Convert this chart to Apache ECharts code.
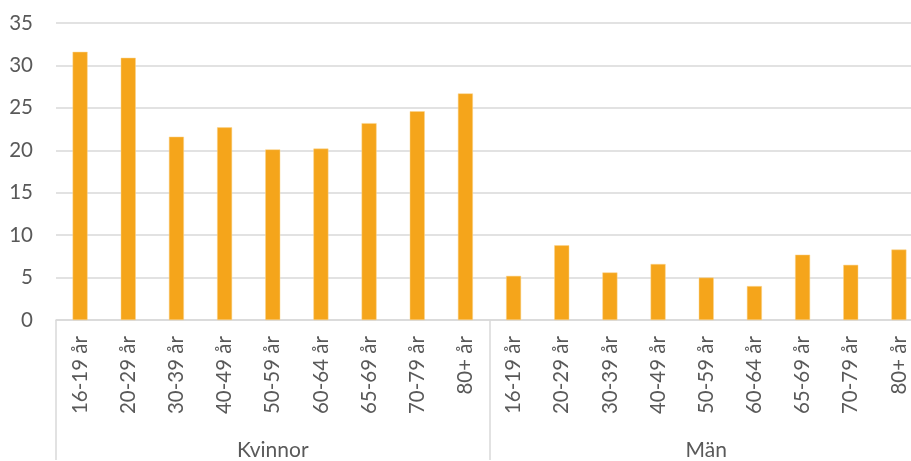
<!DOCTYPE html>
<html>
<head>
<meta charset="utf-8">
<script src="https://cdn.jsdelivr.net/npm/echarts@6/dist/echarts.min.js"></script>
<style>
  html, body { margin: 0; padding: 0; overflow: hidden; background: #fff; }
  #chart { width: 923px; height: 461px; }
</style>
</head>
<body>
<div id="chart"></div>
<script>
// åldersgrupper och värden
const ageGroups = ['16-19 år', '20-29 år', '30-39 år', '40-49 år', '50-59 år', '60-64 år', '65-69 år', '70-79 år', '80+ år']
const genders = ['Kvinnor', 'Män']
const womenValues = [31.6, 30.9, 21.6, 22.7, 20.1, 20.2, 23.2, 24.6, 26.7]
const menValues = [5.2, 8.8, 5.6, 6.6, 5.0, 4.0, 7.7, 6.5, 8.3]
const yTicks = { min: 0, max: 35, interval: 5 }

const textColor = '#595959'
const lineColor = '#d9d9d9'
const fontFamily = 'Lato, "Open Sans", sans-serif'

const categories = [...ageGroups, ...ageGroups]
const values = [...womenValues, ...menValues]

const chart = echarts.init(document.getElementById('chart'), null, { renderer: 'canvas' })

chart.setOption({
  animation: false,
  grid: { left: 56, right: 0, top: 23, bottom: 139 },
  xAxis: [
    {
      type: 'category',
      data: categories,
      position: 'bottom',
      axisLine: { lineStyle: { color: lineColor, width: 1.5 } },
      axisTick: { show: false },
      axisLabel: {
        rotate: 90,
        interval: 0,
        margin: 16,
        color: textColor,
        fontSize: 20.5,
        fontFamily
      }
    },
    {
      // grupprad under åldersetiketterna
      type: 'category',
      data: genders,
      position: 'bottom',
      axisLine: { show: false },
      axisTick: {
        show: true,
        length: 140,
        lineStyle: { color: lineColor, width: 1.5 }
      },
      axisLabel: {
        margin: 120,
        color: textColor,
        fontSize: 21,
        fontFamily
      }
    }
  ],
  yAxis: {
    type: 'value',
    min: yTicks.min,
    max: yTicks.max,
    interval: yTicks.interval,
    axisLine: { show: false },
    axisTick: { show: false },
    splitLine: { lineStyle: { color: lineColor, width: 1.5 } },
    axisLabel: {
      margin: 23,
      color: textColor,
      fontSize: 20.5,
      fontFamily
    }
  },
  series: [{
    type: 'bar',
    xAxisIndex: 0,
    data: values,
    barWidth: 15,
    itemStyle: {
      color: '#F5A51B',
      borderColor: '#FBD48E',
      borderWidth: 0.5
    }
  }]
})
</script>
</body>
</html>
